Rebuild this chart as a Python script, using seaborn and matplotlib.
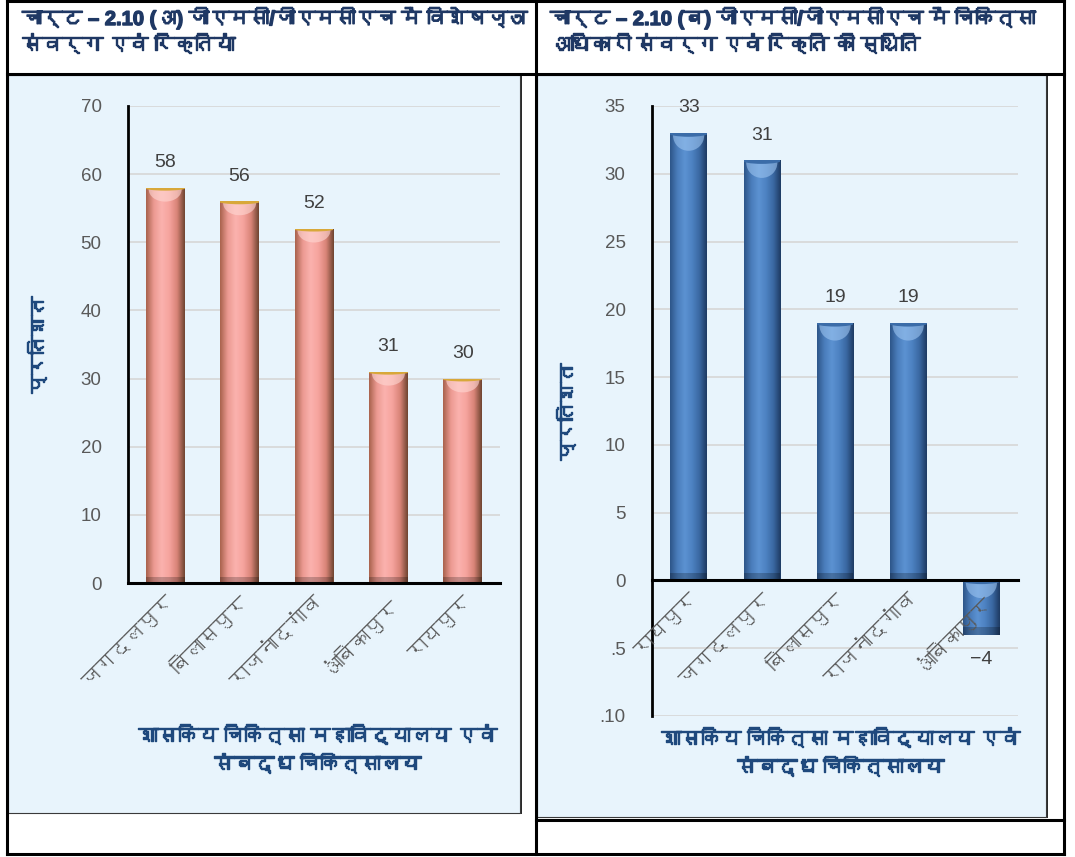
import numpy as np
import matplotlib
matplotlib.use("Agg")
import matplotlib.pyplot as plt
from matplotlib import font_manager
from matplotlib.colors import LinearSegmentedColormap
from matplotlib.patches import Rectangle, Ellipse
from matplotlib.lines import Line2D
import matplotlib.patheffects as pe
import seaborn as sns

# ---------------------------------------------------------------- data
left_title = "चार्ट – 2.10 (अ) जीएमसी/जीएमसीएच में विशेषज्ञ\nसंवर्ग एवं रिक्तियां"
right_title = "चार्ट – 2.10 (ब) जीएमसी/जीएमसीएच में चिकित्सा\nअधिकारी संवर्ग एवं रिक्ति की स्थिति"

left_cities = ["जगदलपुर", "बिलासपुर", "राजनांदगांव", "अंबिकापुर", "रायपुर"]
left_values = [58, 56, 52, 31, 30]
left_yticks = [0, 10, 20, 30, 40, 50, 60, 70]
left_yticklabels = ["0", "10", "20", "30", "40", "50", "60", "70"]

right_cities = ["रायपुर", "जगदलपुर", "बिलासपुर", "राजनांदगांव", "अंबिकापुर"]
right_values = [33, 31, 19, 19, -4]
right_yticks = [-10, -5, 0, 5, 10, 15, 20, 25, 30, 35]
right_yticklabels = [".10", ".5", "0", "5", "10", "15", "20", "25", "30", "35"]

y_label = "प्रतिशत"
x_title = "शासकिय चिकित्सा महाविद्यालय एवं\nसंबद्ध चिकित्सालय"


# ---------------------------------------------------------------- fonts
def font_with(ch):
    """Name of an installed font whose cmap covers the given character."""
    try:
        from fontTools.ttLib import TTFont
    except Exception:
        return None
    for entry in font_manager.fontManager.ttflist:
        try:
            with TTFont(entry.fname, fontNumber=0, lazy=True) as tt:
                cmap = tt.getBestCmap() or {}
            if ord(ch) in cmap:
                return entry.name
        except Exception:
            continue
    return None


deva = font_with("क")
families = ["Liberation Sans"] + ([deva] if deva else []) + ["DejaVu Sans"]

sns.set_theme(style="white")
plt.rcParams["font.family"] = families
plt.rcParams["axes.unicode_minus"] = True

W, H = 1075, 857
fig = plt.figure(figsize=(W / 100, H / 100), dpi=100)
fig.patch.set_facecolor("white")

BG = "#E8F4FC"
NAVY = "#1F3864"
AXBLUE = "#1F497D"
GREY = "#595959"


def heavy(color, lw=1.0):
    # thickens the strokes of scripts that only ship a regular weight
    return [pe.withStroke(linewidth=lw, foreground=color)]


def fx(x):
    return x / W


def fy(y):
    return 1 - y / H


# ---------------------------------------------------------------- panel frames
def panel_box(x0, y0, x1, y1):
    fig.add_artist(Rectangle((fx(x0), fy(y1 + 1)), fx(x1 - x0 + 2), fy(y0) - fy(y1 + 1),
                             transform=fig.transFigure, facecolor="#2b2b2b",
                             edgecolor="none", zorder=0))
    fig.add_artist(Rectangle((fx(x0), fy(y1)), fx(x1 - x0), fy(y0) - fy(y1),
                             transform=fig.transFigure, facecolor=BG,
                             edgecolor="#3a3a3a", linewidth=0.8, zorder=0.5))


panel_box(8, 75, 520, 813)
panel_box(537, 75, 1046, 817)


def fline(xs, ys, lw=2.2):
    fig.add_artist(Line2D([fx(v) for v in xs], [fy(v) for v in ys],
                          transform=fig.transFigure, color="black",
                          linewidth=lw, solid_capstyle="projecting", zorder=5))


fline([7, 1064], [1, 1])          # top
fline([7, 1064], [854, 854])      # bottom
fline([7, 7], [1, 854])           # left
fline([1064, 1064], [1, 854])     # right
fline([536, 536], [1, 854])       # divider
fline([7, 1064], [74, 74])        # under the titles
fline([536, 1064], [820, 820])    # under the right panel

fig.text(fx(22), fy(7), left_title, ha="left", va="top", fontsize=14.5,
         fontweight="bold", color=NAVY, linespacing=1.35,
         path_effects=heavy(NAVY))
fig.text(fx(550), fy(7), right_title, ha="left", va="top", fontsize=14.5,
         fontweight="bold", color=NAVY, linespacing=1.35,
         path_effects=heavy(NAVY))

# ---------------------------------------------------------------- bar shading
pink_cmap = LinearSegmentedColormap.from_list(
    "pinkbar", ["#A8624C", "#EC9A92", "#FBB2AE", "#F6A49E", "#D98478", "#6E4430"])
blue_cmap = LinearSegmentedColormap.from_list(
    "bluebar", ["#2D5588", "#4A7DBB", "#5C92D2", "#4D82C2", "#3A68A2", "#1E3A62"])


def shade_bars(ax, cmap, cap_color, cap_hi, span):
    grad = np.linspace(0, 1, 128).reshape(1, -1)
    for p in list(ax.patches):
        x0, y0 = p.get_x(), p.get_y()
        w, h = p.get_width(), p.get_height()
        im = ax.imshow(grad, cmap=cmap, extent=(x0, x0 + w, y0, y0 + h),
                       aspect="auto", interpolation="bicubic", zorder=2.1)
        im.set_clip_path(p)
        top = y0 + h if h >= 0 else y0
        # soft rounded sheen just under the rim
        sheen = Ellipse((x0 + w / 2, top - span * 0.004), w * 0.85, span * 0.05,
                        facecolor=cap_hi, edgecolor="none", alpha=0.6, zorder=2.2)
        ax.add_patch(sheen)
        sheen.set_clip_path(p)
        rim = Ellipse((x0 + w / 2, top), w * 1.1, span * 0.012,
                      facecolor=cap_color, edgecolor="none", zorder=2.3)
        ax.add_patch(rim)
        rim.set_clip_path(p)
        bot = y0 if h >= 0 else y0 + h
        ax.add_patch(Rectangle((x0, bot), w, span * 0.012,
                               facecolor="black", edgecolor="none", alpha=0.22, zorder=2.2))


def style_axis(ax, yticks, yticklabels, ylim, ncat):
    ax.set_zorder(2)
    ax.set_facecolor("none")
    for side in ("top", "right"):
        ax.spines[side].set_visible(False)
    # category axis sits on the zero line
    ax.spines["bottom"].set_position(("data", 0))
    ax.spines["bottom"].set_color("black")
    ax.spines["bottom"].set_linewidth(2.2)
    ax.spines["bottom"].set_zorder(3)
    ax.spines["left"].set_color("black")
    ax.spines["left"].set_linewidth(2)
    ax.set_ylim(*ylim)
    ax.set_xlim(-0.5, ncat - 0.5)
    ax.set_yticks(yticks)
    ax.set_yticklabels(yticklabels)
    ax.tick_params(axis="y", length=0, pad=19, labelsize=13.5, labelcolor=GREY)
    ax.tick_params(axis="x", length=0, pad=7, labelsize=14.5, labelcolor=GREY)
    ax.xaxis.set_zorder(4)   # category names print over a bar that dips below zero
    for v in yticks:
        if v != 0:
            ax.axhline(v, color="#D6D6D6", linewidth=1.2, zorder=0.5)
    ax.set_xlabel("")
    ax.set_ylabel(y_label, fontsize=14, fontweight="bold", color=AXBLUE,
                  path_effects=heavy(AXBLUE))
    for t in ax.get_xticklabels():
        t.set_rotation(45)
        t.set_ha("right")
        t.set_va("top")
        t.set_rotation_mode("anchor")


def add_labels(ax, values):
    texts = [f"{v:g}".replace("-", "\u2212") for v in values]
    ax.bar_label(ax.containers[0], labels=texts, padding=12,
                 fontsize=14, color="#404040")


# ---------------------------------------------------------------- left chart
axL = fig.add_axes([fx(128), fy(583), fx(500 - 128), fy(106) - fy(583)])
sns.barplot(x=left_cities, y=left_values, ax=axL, color="#F4A09A",
            width=0.52, saturation=1, edgecolor="none", zorder=2)
add_labels(axL, left_values)
shade_bars(axL, pink_cmap, "#D8A83A", "#FFD8D4", 70)
style_axis(axL, left_yticks, left_yticklabels, (0, 70), len(left_cities))
axL.yaxis.set_label_coords(-0.215, 0.5)

# ---------------------------------------------------------------- right chart
axR = fig.add_axes([fx(652), fy(716), fx(1018 - 652), fy(106) - fy(716)])
sns.barplot(x=right_cities, y=right_values, ax=axR, color="#4F81BD",
            width=0.5, saturation=1, edgecolor="none", zorder=2)
add_labels(axR, right_values)
shade_bars(axR, blue_cmap, "#3B6CA8", "#9CC4F0", 45)
style_axis(axR, right_yticks, right_yticklabels, (-10, 35), len(right_cities))
axR.yaxis.set_label_coords(-0.205, 0.5)

# ---------------------------------------------------------------- axis titles
fig.text(fx(317), fy(750), x_title, ha="center", va="center", fontsize=14.5,
         fontweight="bold", color=AXBLUE, linespacing=1.5,
         path_effects=heavy(AXBLUE), zorder=3)
fig.text(fx(840), fy(753), x_title, ha="center", va="center", fontsize=14.5,
         fontweight="bold", color=AXBLUE, linespacing=1.5,
         path_effects=heavy(AXBLUE), zorder=3)

fig.savefig("out.png", dpi=100, facecolor="white")
